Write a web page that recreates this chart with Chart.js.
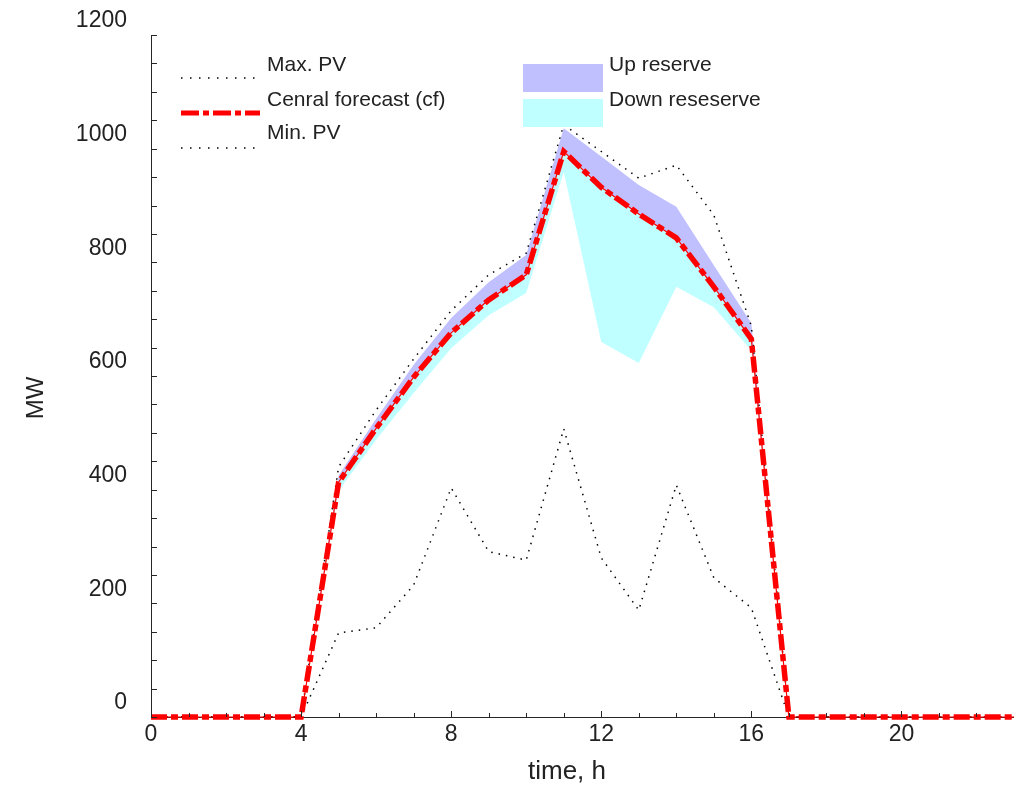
<!DOCTYPE html>
<html>
<head>
<meta charset="utf-8">
<title>PV forecast and reserves</title>
<script src="https://cdn.jsdelivr.net/npm/chart.js@4.4.0/dist/chart.umd.min.js"></script>
<style>
  html, body { margin: 0; padding: 0; background: #fff; }
  #wrap { position: relative; width: 1014px; height: 787px; }
</style>
</head>
<body>
<div id="wrap"><canvas id="pvChart" width="1014" height="787"></canvas></div>
<script>
  'use strict';

  // hourly data, MW
  var hours = [0, 1, 2, 3, 4, 5, 6, 7, 8, 9, 10, 11, 12, 13, 14, 15, 16, 17, 18, 19, 20, 21, 22, 23];
  var centralForecast = [0, 0, 0, 0, 0, 413, 508, 598, 676, 734, 778, 995, 932, 885, 843, 757, 665, 0, 0, 0, 0, 0, 0, 0];
  var maxPV = [0, 0, 0, 0, 0, 440, 540, 630, 715, 778, 816, 1042, 995, 948, 971, 883, 688, 0, 0, 0, 0, 0, 0, 0];
  var minPV = [0, 0, 0, 0, 0, 148, 157, 232, 403, 291, 276, 507, 280, 188, 408, 245, 192, 0, 0, 0, 0, 0, 0, 0];
  var upReserveTop = [0, 0, 0, 0, 0, 425, 525, 620, 702, 765, 813, 1036, 986, 936, 898, 795, 693, 0, 0, 0, 0, 0, 0, 0];
  var downReserveBottom = [0, 0, 0, 0, 0, 398, 488, 570, 649, 707, 746, 959, 660, 623, 757, 721, 645, 0, 0, 0, 0, 0, 0, 0];

  var yTicksMajor = [0, 200, 400, 600, 800, 1000, 1200];
  var xTicksMajor = [0, 4, 8, 12, 16, 20];

  var colors = {
    axis: '#262626',
    text: '#222222',
    cf: '#ff0000',
    up: '#c0c0ff',
    down: '#bfffff'
  };
  var FONT = '"Liberation Sans", Arial, sans-serif';
  var cfDash = [16, 4, 7, 4];
  var dotDash = [1.5, 6];

  function points(values) {
    return hours.map(function(h, i) { return { x: h, y: values[i] }; });
  }

  // inward tick marks, legend and axis titles
  var decorations = {
    id: 'decorations',
    afterDraw: function(chart) {
      var ctx = chart.ctx;
      var xs = chart.scales.x;
      var ys = chart.scales.y;
      var area = chart.chartArea;

      ctx.save();
      ctx.strokeStyle = colors.axis;
      ctx.lineWidth = 1;
      ctx.beginPath();
      for (var v = 0; v <= 1200; v += 50) {
        var py = Math.round(ys.getPixelForValue(v)) + 0.5;
        ctx.moveTo(area.left, py);
        ctx.lineTo(area.left + 6, py);
      }
      for (var h = 0; h <= 23; h++) {
        var px = Math.round(xs.getPixelForValue(h)) + 0.5;
        var len = xTicksMajor.indexOf(h) >= 0 ? 6 : 4;
        ctx.moveTo(px, area.bottom);
        ctx.lineTo(px, area.bottom - len);
      }
      ctx.stroke();

      // legend, left column
      ctx.fillStyle = colors.text;
      ctx.font = '21px ' + FONT;
      ctx.textBaseline = 'middle';
      ctx.textAlign = 'left';
      ctx.fillText('Max. PV', 267, 65);
      ctx.fillText('Cenral forecast (cf)', 267, 100);
      ctx.fillText('Min. PV', 267, 133);

      ctx.strokeStyle = '#000';
      ctx.lineWidth = 1.5;
      ctx.setLineDash([1.5, 7.5]);
      ctx.beginPath();
      ctx.moveTo(181, 78); ctx.lineTo(256, 78);
      ctx.moveTo(181, 148); ctx.lineTo(256, 148);
      ctx.stroke();

      ctx.strokeStyle = colors.cf;
      ctx.lineWidth = 5;
      ctx.setLineDash([18, 4, 6, 4]);
      ctx.beginPath();
      ctx.moveTo(181, 113); ctx.lineTo(260, 113);
      ctx.stroke();
      ctx.setLineDash([]);

      // legend, right column
      ctx.fillStyle = colors.up;
      ctx.fillRect(523, 64, 80, 28);
      ctx.fillStyle = colors.down;
      ctx.fillRect(523, 99, 80, 28);
      ctx.fillStyle = colors.text;
      ctx.fillText('Up reserve', 609, 65);
      ctx.fillText('Down reseserve', 609, 100);

      // axis titles
      ctx.font = '26px ' + FONT;
      ctx.textAlign = 'center';
      ctx.fillText('time, h', 567, 772);
      ctx.translate(36, 398);
      ctx.rotate(-Math.PI / 2);
      ctx.font = '24px ' + FONT;
      ctx.fillText('MW', 0, 0);
      ctx.restore();
    }
  };

  var ctx = document.getElementById('pvChart');

  new Chart(ctx, {
    type: 'line',
    data: {
      datasets: [
        {
          label: 'Cenral forecast (cf)',
          data: points(centralForecast),
          borderColor: colors.cf,
          borderWidth: 5.5,
          borderDash: cfDash,
          pointRadius: 0,
          fill: false,
          clip: false,
          order: 0
        },
        {
          label: 'cf line',
          data: points(centralForecast),
          borderColor: colors.cf,
          borderWidth: 1.2,
          pointRadius: 0,
          fill: false,
          clip: false,
          order: 1
        },
        {
          label: 'Max. PV',
          data: points(maxPV),
          borderColor: '#000',
          borderWidth: 1.5,
          borderDash: dotDash,
          pointRadius: 0,
          fill: false,
          clip: false,
          order: 2
        },
        {
          label: 'Min. PV',
          data: points(minPV),
          borderColor: '#000',
          borderWidth: 1.5,
          borderDash: dotDash,
          pointRadius: 0,
          fill: false,
          clip: false,
          order: 3
        },
        {
          label: 'Up reserve',
          data: points(upReserveTop),
          borderColor: 'transparent',
          borderWidth: 0,
          backgroundColor: colors.up,
          pointRadius: 0,
          fill: 0,
          order: 4
        },
        {
          label: 'Down reseserve',
          data: points(downReserveBottom),
          borderColor: 'transparent',
          borderWidth: 0,
          backgroundColor: colors.down,
          pointRadius: 0,
          fill: 0,
          order: 5
        }
      ]
    },
    options: {
      responsive: false,
      animation: false,
      layout: { autoPadding: false, padding: { top: 35, right: 0, bottom: 0, left: 0 } },
      plugins: {
        legend: { display: false },
        tooltip: { enabled: false }
      },
      elements: { line: { tension: 0 } },
      scales: {
        x: {
          type: 'linear',
          min: 0,
          max: 23,
          afterFit: function(scale) { scale.height = 70; },
          grid: { display: false },
          border: { display: true, color: colors.axis, width: 1 },
          ticks: {
            stepSize: 1,
            autoSkip: false,
            maxRotation: 0,
            padding: -4,
            color: colors.text,
            font: { family: FONT, size: 23 },
            callback: function(v) { return xTicksMajor.indexOf(v) >= 0 ? String(v) : ''; }
          }
        },
        y: {
          min: 0,
          max: 1200,
          afterFit: function(scale) { scale.width = 151; },
          grid: { display: false },
          border: { display: true, color: colors.axis, width: 1 },
          ticks: {
            stepSize: 50,
            autoSkip: false,
            padding: 16,
            labelOffset: -14,
            color: colors.text,
            font: { family: FONT, size: 23 },
            callback: function(v) { return yTicksMajor.indexOf(v) >= 0 ? String(v) : ''; }
          }
        }
      }
    },
    plugins: [decorations]
  });
</script>
</body>
</html>
